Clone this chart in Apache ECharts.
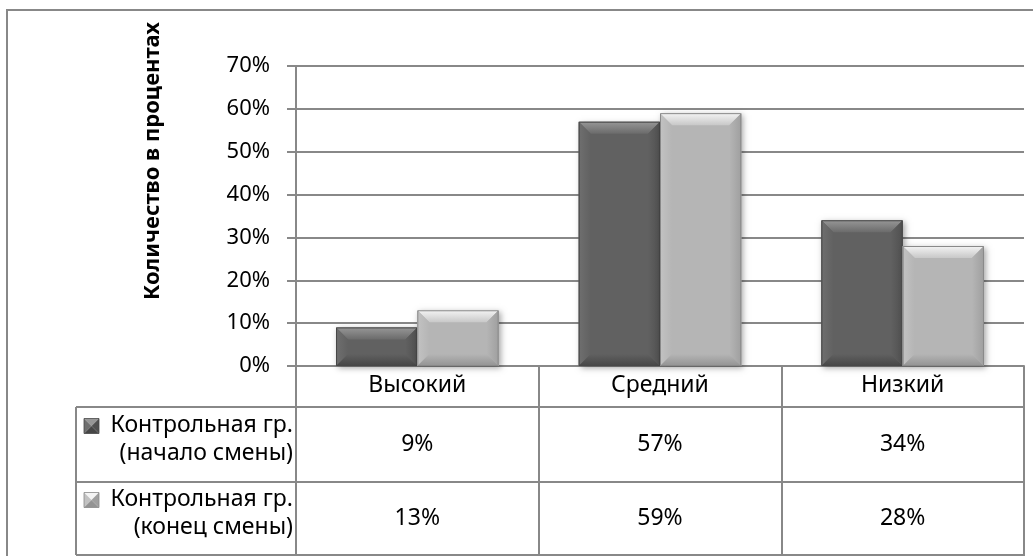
<!DOCTYPE html>
<html><head><meta charset="utf-8">
<script src="https://cdn.jsdelivr.net/npm/echarts@6/dist/echarts.min.js"></script>
<style>html,body{margin:0;padding:0;background:#fff}#c{width:1033px;height:556px}</style>
</head><body><div id="c"></div>
<script>
// ---- data ----
const categories = ['Высокий', 'Средний', 'Низкий'];
const seriesLabels = [['Контрольная гр.', '(начало смены)'], ['Контрольная гр.', '(конец смены)']];
const startValues = [9, 57, 34];
const endValues = [13, 59, 28];
const yMin = 0, yMax = 70, yStep = 10;
const yAxisTitle = 'Количество в процентах';

// ---- layout ----
const FONT = 'Noto Sans';
const W = 1033, H = 556;
const gridL = 296, gridR = 9, gridT = 66, gridB = 190;
const plotW = W - gridL - gridR;
const axisY = H - gridB;
const row0B = 407, row1B = 482, row2B = 555, tableL = 76;
const lineCol = '#888888';
const TXT = 23;

const palettes = [
  {main: '#616161', t0: '#979797', t1: '#6b6b6b', left: '#6f6f6f', right: '#505050', bottom: '#464646', edge: '#474747'},
  {main: '#b5b5b5', t0: '#f4f4f4', t1: '#c8c8c8', left: '#c2c2c2', right: '#9f9f9f', bottom: '#939393', edge: '#898989'}
];

function lin(c0, c1, x0, y0, x1, y1) {
  return {type: 'linear', x: x0, y: y0, x2: x1, y2: y1, colorStops: [{offset: 0, color: c0}, {offset: 1, color: c1}]};
}

function bevelItem(si) {
  const p = palettes[si];
  return function (params, api) {
    const cat = api.value(0), val = api.value(1);
    const base = api.coord([cat, 0]);
    const top = api.coord([cat, val]);
    const band = api.size([1, 0])[0];
    const bw = band * 0.335;
    const x = base[0] - bw + si * bw;
    const y = top[1], h = base[1] - top[1];
    const b = Math.min(12, h / 2, bw / 2);
    return {
      type: 'group',
      children: [
        {type: 'rect', shape: {x: x, y: y, width: bw, height: h},
          style: {fill: p.main, shadowBlur: 6, shadowOffsetX: 2, shadowOffsetY: 2, shadowColor: 'rgba(0,0,0,0.35)'}},
        {type: 'polygon', shape: {points: [[x, y], [x + bw, y], [x + bw - b, y + b], [x + b, y + b]]},
          style: {fill: lin(p.t0, p.t1, 0, 0, 0, 1)}},
        {type: 'polygon', shape: {points: [[x, y], [x + b, y + b], [x + b, y + h - b], [x, y + h]]},
          style: {fill: lin(p.left, p.main, 0, 0, 1, 0)}},
        {type: 'polygon', shape: {points: [[x + bw, y], [x + bw, y + h], [x + bw - b, y + h - b], [x + bw - b, y + b]]},
          style: {fill: lin(p.main, p.right, 0, 0, 1, 0)}},
        {type: 'polygon', shape: {points: [[x, y + h], [x + b, y + h - b], [x + bw - b, y + h - b], [x + bw, y + h]]},
          style: {fill: lin(p.main, p.bottom, 0, 0, 0, 1)}},
        {type: 'rect', shape: {x: x + 0.5, y: y + 0.5, width: bw - 1, height: h - 1},
          style: {fill: 'none', stroke: p.edge, lineWidth: 1}}
      ]
    };
  };
}

function legendIcon(x, y, s, p) {
  const c = [x + s / 2, y + s / 2];
  return [
    {type: 'polygon', shape: {points: [[x, y], [x + s, y], c]}, style: {fill: p.t0}},
    {type: 'polygon', shape: {points: [[x, y], c, [x, y + s]]}, style: {fill: p.left}},
    {type: 'polygon', shape: {points: [[x + s, y], [x + s, y + s], c]}, style: {fill: p.right}},
    {type: 'polygon', shape: {points: [[x, y + s], c, [x + s, y + s]]}, style: {fill: p.bottom}},
    {type: 'rect', shape: {x: x, y: y, width: s, height: s}, style: {fill: 'none', stroke: p.edge, lineWidth: 0.8}}
  ];
}

const allSeries = [startValues, endValues];
const rowBounds = [[row0B, row1B], [row1B, row2B]];
const catW = plotW / categories.length;

const graphics = [];
graphics.push({type: 'rect', shape: {x: 7, y: 10, width: 1060, height: 600}, style: {fill: 'none', stroke: lineCol, lineWidth: 2}, silent: true});
[row0B, row1B, row2B].forEach(yy => graphics.push({type: 'line', shape: {x1: tableL, y1: yy, x2: gridL + plotW + 1, y2: yy}, style: {stroke: lineCol, lineWidth: 2}}));
graphics.push({type: 'line', shape: {x1: tableL, y1: row0B, x2: tableL, y2: row2B}, style: {stroke: lineCol, lineWidth: 2}});
allSeries.forEach((vals, si) => {
  const [ya, yb] = rowBounds[si];
  const yc = (ya + yb) / 2;
  vals.forEach((v, i) => {
    graphics.push({type: 'text', x: gridL + catW * (i + 0.5), y: yc,
      style: {text: v + '%', font: TXT + 'px "' + FONT + '"', fill: '#000', align: 'center', verticalAlign: 'middle'}});
  });
  graphics.push({type: 'text', x: 293, y: yc - 6 - 13,
    style: {text: seriesLabels[si][0], font: TXT + 'px "' + FONT + '"', fill: '#000', align: 'right', verticalAlign: 'middle'}});
  graphics.push({type: 'text', x: 293, y: yc - 6 + 15,
    style: {text: seriesLabels[si][1], font: TXT + 'px "' + FONT + '"', fill: '#000', align: 'right', verticalAlign: 'middle'}});
  legendIcon(84, yc - 6 - 13 - 7, 15, palettes[si]).forEach(g => graphics.push(g));
});
graphics.push({type: 'text', x: 153, y: 161, rotation: Math.PI / 2,
  style: {text: yAxisTitle, font: 'bold 22px "' + FONT + '"', fill: '#000', align: 'center', verticalAlign: 'middle'}});

const chart = echarts.init(document.getElementById('c'), null, {renderer: 'canvas'});
chart.setOption({
  animation: false,
  backgroundColor: '#fff',
  grid: {left: gridL, right: gridR, top: gridT, bottom: gridB, containLabel: false},
  xAxis: {
    type: 'category', data: categories,
    axisLine: {show: true, lineStyle: {color: lineCol, width: 2}},
    axisTick: {show: true, length: row2B - axisY, interval: 0, lineStyle: {color: lineCol, width: 2}},
    axisLabel: {margin: 8, fontFamily: FONT, fontSize: TXT, color: '#000'},
    splitLine: {show: false}
  },
  yAxis: {
    type: 'value', min: yMin, max: yMax, interval: yStep,
    axisLine: {show: true, lineStyle: {color: lineCol, width: 2}},
    axisTick: {show: true, length: 9, lineStyle: {color: lineCol, width: 2}},
    axisLabel: {formatter: '{value}%', margin: 26, fontFamily: FONT, fontSize: 22, color: '#000'},
    splitLine: {show: true, lineStyle: {color: lineCol, width: 2}}
  },
  series: allSeries.map((vals, si) => ({
    type: 'custom', name: seriesLabels[si].join(' '),
    renderItem: bevelItem(si),
    encode: {x: 0, y: 1},
    data: vals.map((v, i) => [i, v]),
    z: 3
  })),
  graphic: graphics
});
</script></body></html>
